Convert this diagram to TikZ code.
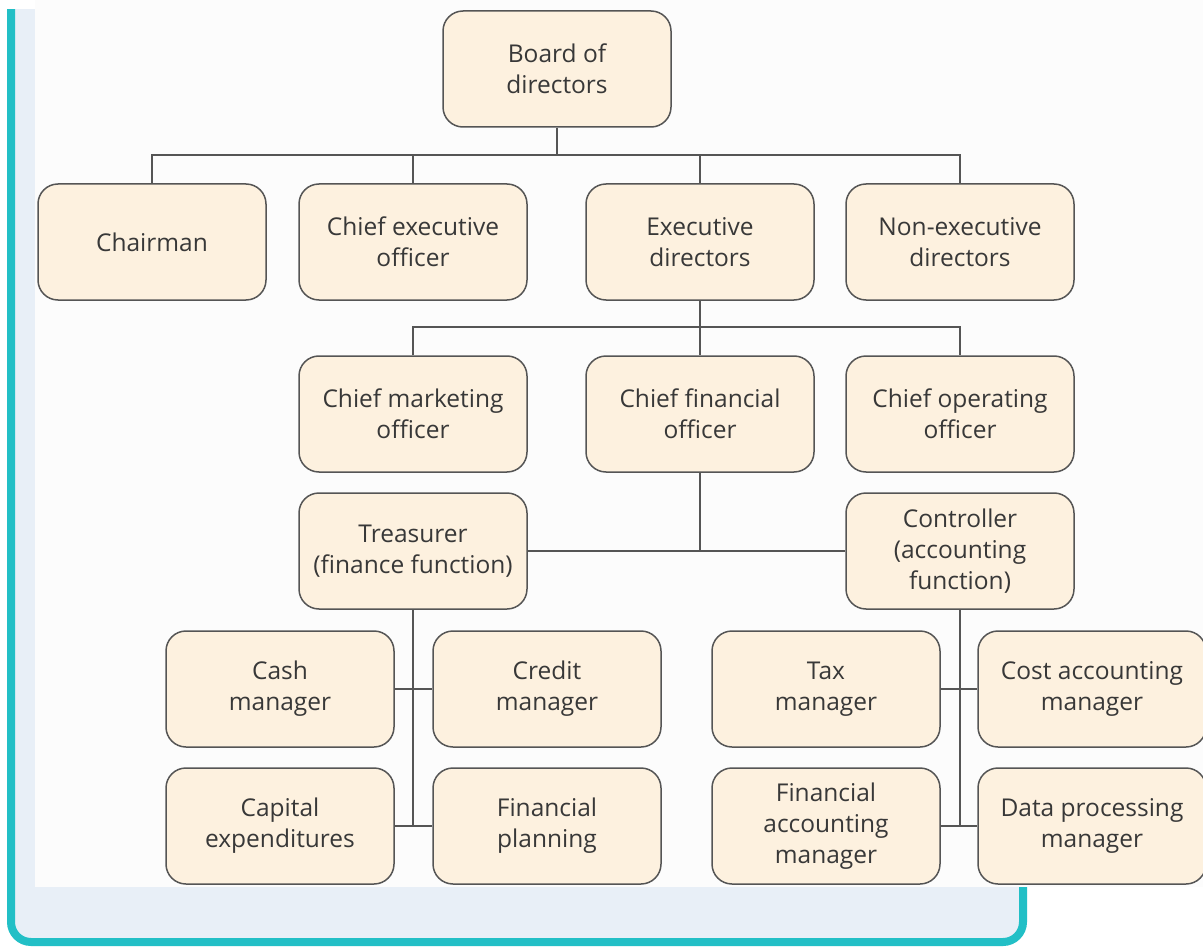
\documentclass[tikz,border=0pt]{standalone}
\usepackage{fontspec}
\setmainfont{Open Sans}[Ligatures=NoCommon]
\definecolor{teal1}{HTML}{22BFC6}
\definecolor{paleblue}{HTML}{E8EFF7}
\definecolor{cream}{HTML}{FDF1DF}
\definecolor{edge}{HTML}{555555}
\definecolor{txt}{HTML}{383838}
\begin{document}
\begin{tikzpicture}[x=1pt,y=1pt,
  box/.style={draw=edge, line width=1.5pt, fill=cream, rounded corners=20pt,
    minimum width=228pt, minimum height=116pt, align=center, text=txt,
    font=\fontsize{24.5}{31}\selectfont, inner sep=0pt},
  wire/.style={draw=edge, line width=1.5pt}]
\useasboundingbox (0,0) rectangle (1203,-947);
% frame
\fill[white] (0,0) rectangle (1203,-947);
\draw[teal1, line width=8pt, fill=paleblue, rounded corners=20pt] (11,20) rectangle (1023,-942);
\fill[white] (0,0) rectangle (1203,-9);
\fill[white!99!black] (35,0) rectangle (1203,-887);
% nodes
\node[box] (board) at (557,-69) {Board of\\directors};
\node[box] (chair) at (152,-242) {Chairman};
\node[box] (ceo) at (413,-242) {Chief executive\\officer};
\node[box] (exec) at (700,-242) {Executive\\directors};
\node[box] (nonexec) at (960,-242) {Non-executive\\directors};
\node[box] (cmo) at (413,-414) {Chief marketing\\officer};
\node[box] (cfo) at (700,-414) {Chief financial\\officer};
\node[box] (coo) at (960,-414) {Chief operating\\officer};
\node[box] (treas) at (413,-551) {Treasurer\\(finance function)};
\node[box] (ctrl) at (960,-551) {Controller\\(accounting\\function)};
\node[box] (cash) at (280,-689) {Cash\\manager};
\node[box] (credit) at (547,-689) {Credit\\manager};
\node[box] (capex) at (280,-826) {Capital\\expenditures};
\node[box] (fplan) at (547,-826) {Financial\\planning};
\node[box] (tax) at (826,-689) {Tax\\manager};
\node[box] (cost) at (1092,-689) {Cost accounting\\manager};
\node[box] (facc) at (826,-826) {Financial\\accounting\\manager};
\node[box] (dp) at (1092,-826) {Data processing\\manager};
% connectors
\coordinate (b1) at (557,-155);
\draw[wire] (board.south) -- (b1);
\draw[wire] (chair.north) |- (b1) -| (nonexec.north);
\draw[wire] (ceo.north) -- (ceo.north |- b1);
\draw[wire] (exec.north) -- (exec.north |- b1);
\coordinate (b2) at (700,-327);
\draw[wire] (exec.south) -- (cfo.north);
\draw[wire] (cmo.north) |- (b2) -| (coo.north);
\coordinate (b3) at (700,-551);
\draw[wire] (cfo.south) -- (b3);
\draw[wire] (treas.east) -- (ctrl.west);
\coordinate (t1) at (413,-826);
\draw[wire] (treas.south) -- (t1);
\draw[wire] (cash.east) -- (credit.west);
\draw[wire] (capex.east) -- (fplan.west);
\coordinate (c1) at (960,-826);
\draw[wire] (ctrl.south) -- (c1);
\draw[wire] (tax.east) -- (cost.west);
\draw[wire] (facc.east) -- (dp.west);
\end{tikzpicture}
\end{document}
